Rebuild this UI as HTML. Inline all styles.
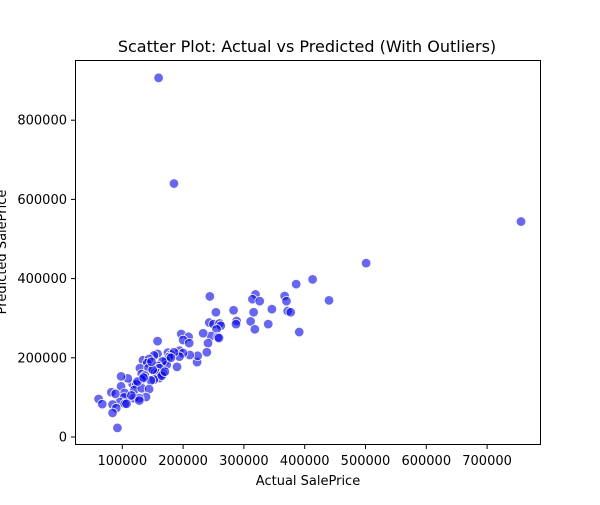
<!DOCTYPE html>
<html><head><meta charset="utf-8"><style>
body{margin:0;background:#fff;font-family:"Liberation Sans","DejaVu Sans",sans-serif}
svg text{font-family:"DejaVu Sans","Liberation Sans",sans-serif;fill:#000}
</style></head><body>
<svg id="chart" width="600" height="500" viewBox="0 0 600 500" xmlns="http://www.w3.org/2000/svg">
<rect width="600" height="500" fill="#fff"/>
<text x="307" y="52" font-size="16" text-anchor="middle">Scatter Plot: Actual vs Predicted (With Outliers)</text>
<g id="points"></g>
<rect x="75.5" y="60.5" width="465" height="384" fill="none" stroke="#000" stroke-width="1"/>
<g id="xticks"></g>
<g id="yticks"></g>
<text x="308" y="485" font-size="13" text-anchor="middle">Actual SalePrice</text>
<text transform="translate(6,252) rotate(-90)" font-size="13" text-anchor="middle">Predicted SalePrice</text>
</svg>
<script>
const actual=[159.7,185,755.8,501,413,386,440,367,370,372,377,391,346,340,319,314,326,316,311,318,283,288,287,244,254,243,250,260,262,255,246,257,259,233,241,239,197,209,200,210,223,224,211,194,200,194,190,158,158,152,175,180,185,177,172,173,166,134,144,141,129,143,158,161,132,137,154,158,167,161,132,152,147,117,123,109,98,98,120,132,144,139,119,128,128,82,89,104,103,96,104,107,61,67,84,90,84,92,150,165,170,125,135,180,148,115];
const predicted=[907,640,544,439,398,386,345,356,343,318,315,265,323,285,360,348,343,315,292,272,320,293,285,355,315,289,285,287,281,272,255,252,250,262,237,214,260,253,245,237,189,205,207,218,212,203,177,242,210,206,213,208,214,202,193,182,191,194,197,187,174,174,180,174,159,155,163,161,160,149,145,145,143,134,133,148,153,128,119,123,121,101,98,98,92,113,109,111,100,88,84,84,96,83,82,73,61,23,170,155,165,140,150,200,190,105];
const xTicks=[100000,200000,300000,400000,500000,600000,700000];
const yTicks=[0,200000,400000,600000,800000];
const NS="http://www.w3.org/2000/svg";
function xs(v){return 61.5+v/100000*60.8;}
function ys(v){return 437-v/100000*39.6;}
const pg=document.getElementById('points');
for(let i=0;i<actual.length;i++){
  const c=document.createElementNS(NS,'circle');
  
  
  c.setAttribute('cx',xs(actual[i]*1000));
  c.setAttribute('cy',ys(predicted[i]*1000));
  c.setAttribute('r',4.8);
  c.setAttribute('fill','rgba(0,0,255,0.6)');
  c.setAttribute('stroke','#fff');
  c.setAttribute('stroke-width','0.8');
  pg.appendChild(c);
}
const xg=document.getElementById('xticks');
xTicks.forEach(t=>{
  const x=xs(t);
  const l=document.createElementNS(NS,'line');
  
  
  l.setAttribute('x1',x);l.setAttribute('x2',x);l.setAttribute('y1',445);l.setAttribute('y2',449);l.setAttribute('stroke','#000');
  xg.appendChild(l);
  const tx=document.createElementNS(NS,'text');
  
  
  tx.setAttribute('x',x);tx.setAttribute('y',465);tx.setAttribute('font-size','13');tx.setAttribute('text-anchor','middle');
  tx.textContent=t;
  xg.appendChild(tx);
});
const yg=document.getElementById('yticks');
yTicks.forEach(t=>{
  const y=ys(t);
  const l=document.createElementNS(NS,'line');
  
  
  l.setAttribute('x1',71);l.setAttribute('x2',75);l.setAttribute('y1',y);l.setAttribute('y2',y);l.setAttribute('stroke','#000');
  yg.appendChild(l);
  const tx=document.createElementNS(NS,'text');
  
  
  tx.setAttribute('x',67);tx.setAttribute('y',y+4.5);tx.setAttribute('font-size','13');tx.setAttribute('text-anchor','end');
  tx.textContent=t;
  yg.appendChild(tx);
});
</script>
</body></html>
